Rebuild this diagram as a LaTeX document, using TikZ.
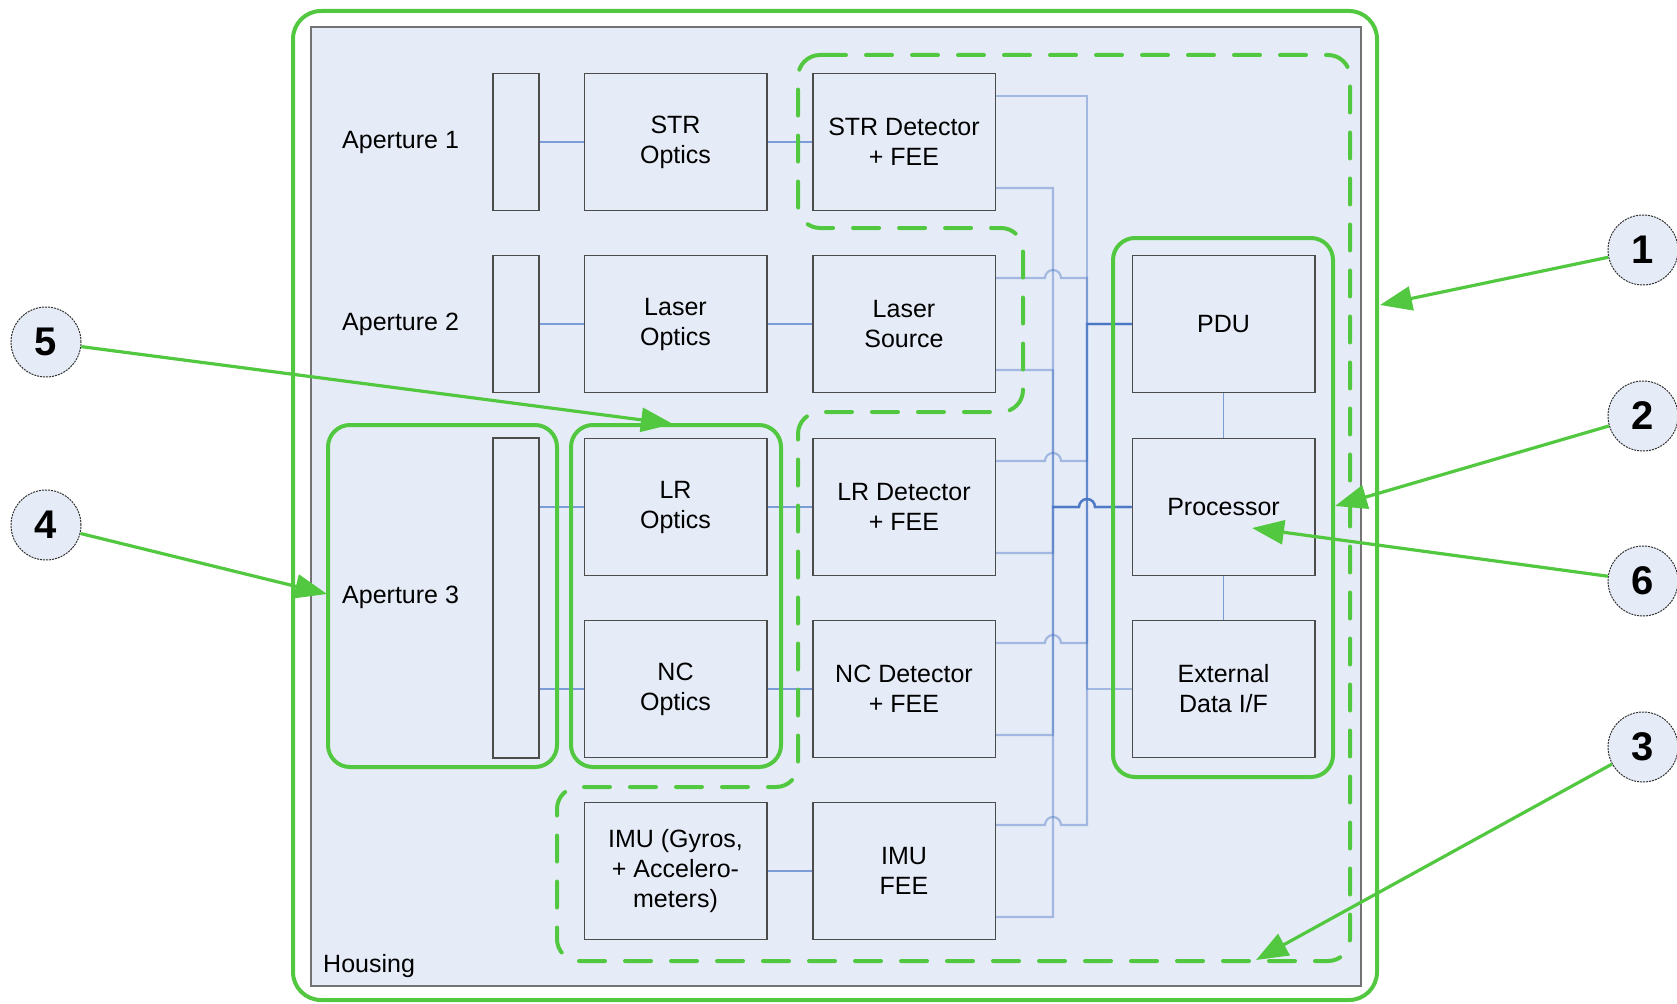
\documentclass[tikz,border=0pt]{standalone}
\usepackage{fontspec}
\setmainfont{Liberation Sans}
\usetikzlibrary{arrows.meta,calc}
\definecolor{bg}{HTML}{E6ECF7}
\definecolor{gr}{HTML}{52C840}
\definecolor{ln}{HTML}{4472C4}
\begin{document}
\begin{tikzpicture}[x=1pt,y=-1pt,
 box/.style={draw=black!70, fill=bg, line width=1.5pt, minimum width=182.5pt, minimum height=137pt, align=center, font=\fontsize{25}{30}\selectfont, inner sep=0pt},
 barbox/.style={draw=black!70, fill=bg, line width=1.5pt, minimum width=46pt, inner sep=0pt},
 lbl/.style={anchor=west, font=\fontsize{25}{30}\selectfont, inner sep=0pt},
 grp/.style={draw=gr, line width=4pt, rounded corners=22pt},
 dgrp/.style={draw=gr, line width=4pt, rounded corners=22pt, dash pattern=on 26pt off 20pt, line cap=round},
 wire/.style={draw=ln, line width=2.2pt, draw opacity=0.42},
 link/.style={draw=ln, line width=1.8pt, draw opacity=0.65},
 call/.style={circle, draw=black!80, fill=bg, line width=1pt, dash pattern=on 2pt off 1pt, minimum size=70pt, inner sep=0pt, font=\fontsize{40}{40}\selectfont\bfseries},
 callarrow/.style={draw=gr, line width=3.2pt, -{Triangle[length=32pt,width=24pt]}}
]
\useasboundingbox (0,0) rectangle (1677,1003);

% outer housing outline and housing
\draw[grp, rounded corners=28pt] (293,11) rectangle (1377,1000);
\draw[fill=bg, draw=black!55, line width=1.5pt] (311,27) rectangle (1361,986);

% boxes
\node[barbox, minimum height=137pt] (b1) at (516,142) {};
\node[box] (stro) at (675.5,142) {STR\\Optics};
\node[box] (strd) at (904,142) {STR Detector\\+ FEE};
\node[barbox, minimum height=137pt] (b2) at (516,324) {};
\node[box] (lzo) at (675.5,324) {Laser\\Optics};
\node[box] (lzs) at (904,324) {Laser\\Source};
\node[barbox, minimum height=320pt] (b3) at (516,598) {};
\node[box] (lro) at (675.5,507) {LR\\Optics};
\node[box] (lrd) at (904,507) {LR Detector\\+ FEE};
\node[box] (nco) at (675.5,689) {NC\\Optics};
\node[box] (ncd) at (904,689) {NC Detector\\+ FEE};
\node[box] (imu) at (675.5,871) {IMU (Gyros,\\+ Accelero-\\meters)};
\node[box] (imuf) at (904,871) {IMU\\FEE};
\node[box] (pdu) at (1223.5,324) {PDU};
\node[box] (proc) at (1223.5,507) {Processor};
\node[box] (ext) at (1223.5,689) {External\\Data I/F};

% bus coordinates
\coordinate (pb) at (1087,0);
\coordinate (db) at (1053,0);
\coordinate (p1) at ($(strd.east)+(0,-46)$);
\coordinate (p2) at ($(lzs.east)+(0,-46)$);
\coordinate (p3) at ($(lrd.east)+(0,-46)$);
\coordinate (p4) at ($(ncd.east)+(0,-46)$);
\coordinate (p5) at ($(imuf.east)+(0,-46)$);
\coordinate (q1) at ($(strd.east)+(0,46)$);
\coordinate (q2) at ($(lzs.east)+(0,46)$);
\coordinate (q3) at ($(lrd.east)+(0,46)$);
\coordinate (q4) at ($(ncd.east)+(0,46)$);
\coordinate (q5) at ($(imuf.east)+(0,46)$);

% power wires
\draw[wire] (p1) -| (pb |- pdu.west) -- (pdu.west);
\foreach \p in {p2,p3,p4,p5}{
  \draw[wire] (\p) -- ($(\p -| db)+(-8,0)$) arc[start angle=180,end angle=0,radius=8pt] -- (\p -| pb) -- (pb |- pdu.west) -- (pdu.west);
}
\draw[wire] (ext.west) -- (pb |- ext.west) -- (pb |- pdu.west) -- (pdu.west);
% data wires
\foreach \q in {q1,q2,q3,q4,q5}{
  \draw[wire] (\q) -| (db |- proc.west) -- ($(pb |- proc.west)+(-8,0)$) arc[start angle=180,end angle=0,radius=8pt] -- (proc.west);
}

% links
\draw[link] (b1) -- (stro);
\draw[link] (stro) -- (strd);
\draw[link] (b2) -- (lzo);
\draw[link] (lzo) -- (lzs);
\draw[link] (lro.west -| b3.east) -- (lro.west);
\draw[link] (nco.west -| b3.east) -- (nco.west);
\draw[link] (lro) -- (lrd);
\draw[link] (nco) -- (ncd);
\draw[link] (imu) -- (imuf);
\draw[link] (pdu) -- (proc);
\draw[link] (proc) -- (ext);

% groups
\draw[grp] (328,425) rectangle (557,767);
\draw[grp] (571,425) rectangle (781,767);
\draw[grp] (1113,238) rectangle (1333,777);
\draw[dgrp] (798,55) -- (1350,55) -- (1350,961) -- (557,961) -- (557,787) -- (798,787) -- (798,412) -- (1023,412) -- (1023,228) -- (798,228) -- cycle;

% labels
\node[lbl] (a1) at (342,142) {Aperture 1};
\node[lbl] (a2) at (342,324) {Aperture 2};
\node[lbl] (a3) at (342,597) {Aperture 3};
\node[lbl] (hs) at (323,966) {Housing};

% callouts
\node[call] (c1) at (1643,250) {1};
\node[call] (c2) at (1643,416) {2};
\node[call] (c6) at (1643,581) {6};
\node[call] (c3) at (1643,747) {3};
\node[call] (c5) at (46,342) {5};
\node[call] (c4) at (46,525) {4};
\coordinate (t1) at (1380,305);
\coordinate (t2) at (1335,506);
\coordinate (t6) at (1252,528);
\coordinate (t3) at (1256,960);
\coordinate (t5) at (673,424);
\coordinate (t4) at (327,594);
\draw[callarrow] (c1) -- (t1);
\draw[callarrow] (c2) -- (t2);
\draw[callarrow] (c6) -- (t6);
\draw[callarrow] (c3) -- (t3);
\draw[callarrow] (c5) -- (t5);
\draw[callarrow] (c4) -- (t4);
\end{tikzpicture}
\end{document}
